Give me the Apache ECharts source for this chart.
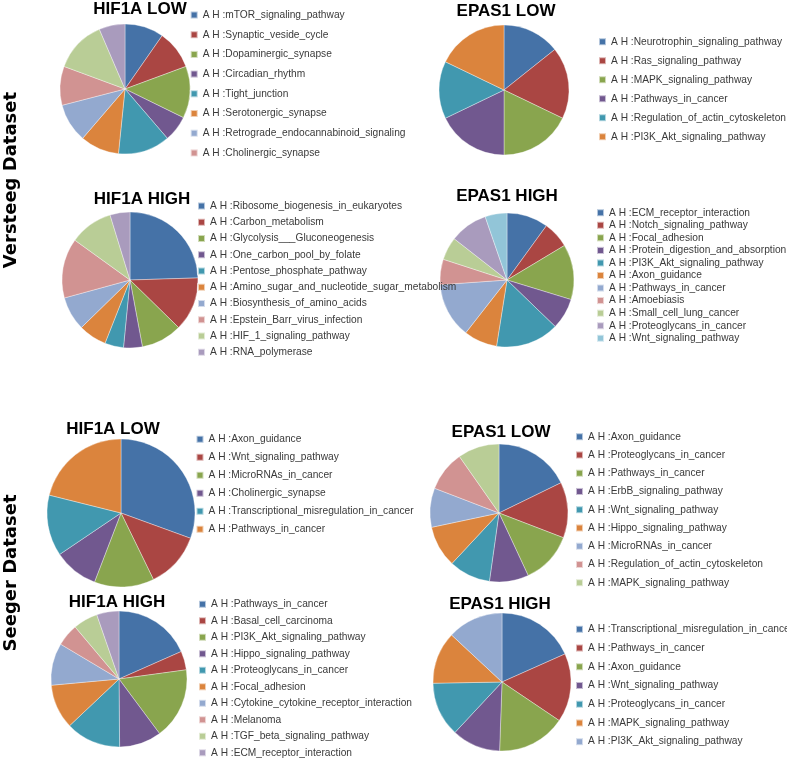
<!DOCTYPE html>
<html>
<head>
<meta charset="utf-8">
<script src="https://cdn.jsdelivr.net/npm/echarts@6/dist/echarts.min.js"></script>
<style>
html,body{margin:0;padding:0;background:#fff;}
#chart{width:787px;height:759px;}
</style>
</head>
<body>
<div id="chart"></div>
<script>
// ---- Data ----
const panelTitles = ['HIF1A LOW', 'EPAS1 LOW', 'HIF1A HIGH', 'EPAS1 HIGH', 'HIF1A LOW', 'EPAS1 LOW', 'HIF1A HIGH', 'EPAS1 HIGH'];
const datasetLabels = ['Versteeg Dataset', 'Seeger Dataset'];

const vHifLowNames = ['A H :mTOR_signaling_pathway', 'A H :Synaptic_veside_cycle', 'A H :Dopaminergic_synapse', 'A H :Circadian_rhythm', 'A H :Tight_junction', 'A H :Serotonergic_synapse', 'A H :Retrograde_endocannabinoid_signaling', 'A H :Cholinergic_synapse', '(not in legend 9)', '(not in legend 10)'];
const vHifLowValues = [3, 3, 4, 2, 4, 3, 3, 3, 4, 2];
const vHifLowLegendCount = 8;

const vEpasLowNames = ['A H :Neurotrophin_signaling_pathway', 'A H :Ras_signaling_pathway', 'A H :MAPK_signaling_pathway', 'A H :Pathways_in_cancer', 'A H :Regulation_of_actin_cytoskeleton', 'A H :PI3K_Akt_signaling_pathway'];
const vEpasLowValues = [4, 5, 5, 5, 4, 5];

const vHifHighNames = ['A H :Ribosome_biogenesis_in_eukaryotes', 'A H :Carbon_metabolism', 'A H :Glycolysis___Gluconeogenesis', 'A H :One_carbon_pool_by_folate', 'A H :Pentose_phosphate_pathway', 'A H :Amino_sugar_and_nucleotide_sugar_metabolism', 'A H :Biosynthesis_of_amino_acids', 'A H :Epstein_Barr_virus_infection', 'A H :HIF_1_signaling_pathway', 'A H :RNA_polymerase'];
const vHifHighValues = [88, 46, 35, 16, 16, 24, 29, 51, 37, 17];

const vEpasHighNames = ['A H :ECM_receptor_interaction', 'A H :Notch_signaling_pathway', 'A H :Focal_adhesion', 'A H :Protein_digestion_and_absorption', 'A H :PI3K_Akt_signaling_pathway', 'A H :Axon_guidance', 'A H :Pathways_in_cancer', 'A H :Amoebiasis', 'A H :Small_cell_lung_cancer', 'A H :Proteoglycans_in_cancer', 'A H :Wnt_signaling_pathway'];
const vEpasHighValues = [36, 23, 48, 27, 55, 29, 48, 22, 20, 33, 19];

const sHifLowNames = ['A H :Axon_guidance', 'A H :Wnt_signaling_pathway', 'A H :MicroRNAs_in_cancer', 'A H :Cholinergic_synapse', 'A H :Transcriptional_misregulation_in_cancer', 'A H :Pathways_in_cancer'];
const sHifLowValues = [110, 44, 47, 35, 48, 76];

const sEpasLowNames = ['A H :Axon_guidance', 'A H :Proteoglycans_in_cancer', 'A H :Pathways_in_cancer', 'A H :ErbB_signaling_pathway', 'A H :Wnt_signaling_pathway', 'A H :Hippo_signaling_pathway', 'A H :MicroRNAs_in_cancer', 'A H :Regulation_of_actin_cytoskeleton', 'A H :MAPK_signaling_pathway'];
const sEpasLowValues = [64, 47, 44, 33, 35, 35, 33, 34, 35];

const sHifHighNames = ['A H :Pathways_in_cancer', 'A H :Basal_cell_carcinoma', 'A H :PI3K_Akt_signaling_pathway', 'A H :Hippo_signaling_pathway', 'A H :Proteoglycans_in_cancer', 'A H :Focal_adhesion', 'A H :Cytokine_cytokine_receptor_interaction', 'A H :Melanoma', 'A H :TGF_beta_signaling_pathway', 'A H :ECM_receptor_interaction'];
const sHifHighValues = [66, 16, 61, 36, 47, 38, 36, 19, 21, 19];

const sEpasHighNames = ['A H :Transcriptional_misregulation_in_cancer', 'A H :Pathways_in_cancer', 'A H :Axon_guidance', 'A H :Wnt_signaling_pathway', 'A H :Proteoglycans_in_cancer', 'A H :MAPK_signaling_pathway', 'A H :PI3K_Akt_signaling_pathway'];
const sEpasHighValues = [66, 58, 58, 41, 46, 44, 47];

// ---- Styling / layout (not data) ----
const palette = ['#4572A7', '#AA4643', '#89A54E', '#71588F', '#4198AF', '#DB843D', '#93A9CF', '#D19392', '#B9CD96', '#A99BBD', '#92C5D8'];

const panels = [
  {names: vHifLowNames, values: vHifLowValues, legendCount: vHifLowLegendCount, center: [125, 89], r: 65, title: [140, 9], legend: {text: 201.7, first: 15, step: 19.7}},
  {names: vEpasLowNames, values: vEpasLowValues, center: [504, 90], r: 65, title: [506, 11], legend: {text: 610, first: 41.7, step: 19}},
  {names: vHifHighNames, values: vHifHighValues, center: [130, 280], r: 68, title: [142, 199], legend: {text: 209, first: 206, step: 16.25}},
  {names: vEpasHighNames, values: vEpasHighValues, center: [507, 280], r: 67, title: [507, 196], legend: {text: 608, first: 212.7, step: 12.56}},
  {names: sHifLowNames, values: sHifLowValues, center: [121, 513], r: 74, title: [113, 429], legend: {text: 207.5, first: 439.3, step: 18}},
  {names: sEpasLowNames, values: sEpasLowValues, center: [499, 513], r: 69, title: [501, 432], legend: {text: 587, first: 436.7, step: 18.25}},
  {names: sHifHighNames, values: sHifHighValues, center: [119, 679], r: 68, title: [117, 602], legend: {text: 210, first: 604.3, step: 16.5}},
  {names: sEpasHighNames, values: sEpasHighValues, center: [502, 682], r: 69, title: [500, 604], legend: {text: 587, first: 629.3, step: 18.73}}
];

const series = [];
const legends = [];
const graphics = [];
const LH = 10;

panels.forEach((p, pi) => {
  const data = p.names.map((n, i) => ({
    name: n + '#' + pi,
    value: p.values[i],
    itemStyle: {color: palette[i % palette.length]}
  }));
  series.push({
    type: 'pie',
    center: p.center,
    radius: p.r,
    startAngle: 90,
    clockwise: true,
    label: {show: false},
    labelLine: {show: false},
    emphasis: {disabled: true},
    silent: true,
    itemStyle: {borderColor: 'rgba(255,255,255,0.6)', borderWidth: 0.6},
    data: data
  });
  const cnt = p.legendCount || p.names.length;
  legends.push({
    orient: 'vertical',
    left: p.legend.text - 12,
    top: p.legend.first - LH / 2,
    padding: 0,
    itemWidth: 7,
    itemHeight: 7,
    itemGap: p.legend.step - LH,
    icon: 'rect',
    selectedMode: false,
    data: data.slice(0, cnt).map(d => d.name),
    formatter: name => name.split('#')[0],
    textStyle: {fontSize: 10.2, lineHeight: LH, color: '#3a3a3a', fontFamily: '"Liberation Sans", Arial, sans-serif'}
  });
  graphics.push({
    type: 'text',
    x: p.title[0],
    y: p.title[1],
    style: {
      text: panelTitles[pi],
      fill: '#000',
      font: 'bold 17px "Liberation Sans", Arial, sans-serif',
      align: 'center',
      verticalAlign: 'middle'
    }
  });
});

graphics.push({
  type: 'text', x: 11, y: 180, rotation: Math.PI / 2,
  style: {text: datasetLabels[0], fill: '#000', font: 'bold 18px "DejaVu Sans", sans-serif', align: 'center', verticalAlign: 'middle'}
});
graphics.push({
  type: 'text', x: 11, y: 573, rotation: Math.PI / 2,
  style: {text: datasetLabels[1], fill: '#000', font: 'bold 18px "DejaVu Sans", sans-serif', align: 'center', verticalAlign: 'middle'}
});

const chart = echarts.init(document.getElementById('chart'), null, {renderer: 'canvas'});
chart.setOption({
  animation: false,
  backgroundColor: '#fff',
  legend: legends,
  series: series,
  graphic: graphics
});
</script>
</body>
</html>
